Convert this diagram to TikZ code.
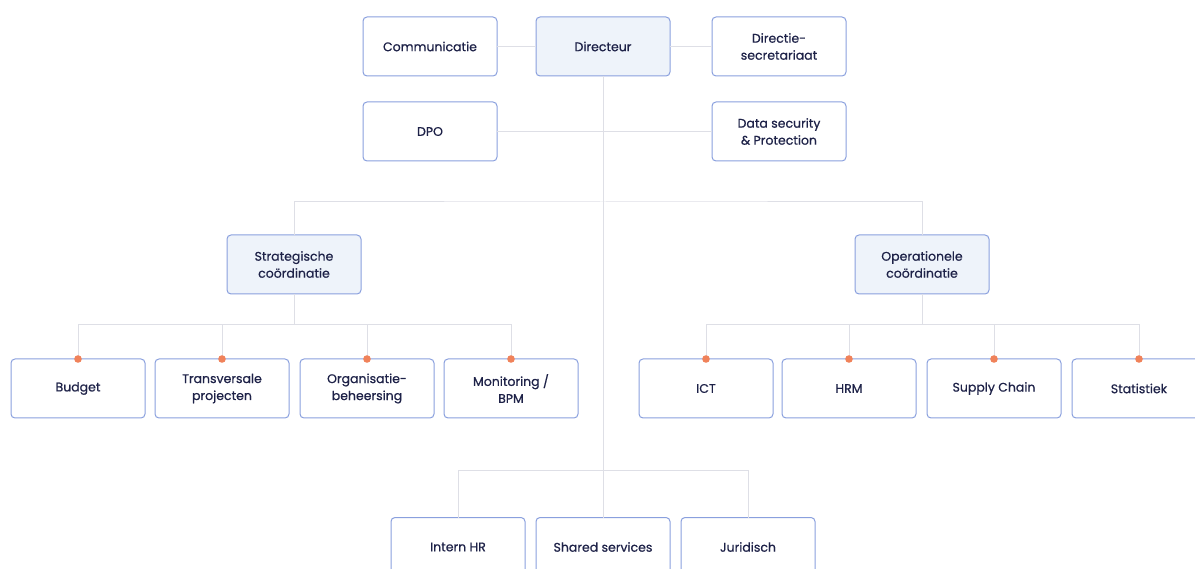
\documentclass[tikz,border=0pt]{standalone}
\usepackage{fontspec}
\setmainfont{Poppins}[UprightFeatures={FakeBold=0.6}]
\usetikzlibrary{positioning}
\definecolor{boxline}{RGB}{138,160,222}
\definecolor{boxfill}{RGB}{238,243,250}
\definecolor{boxtext}{RGB}{30,34,72}
\definecolor{linkgray}{RGB}{222,223,230}
\definecolor{dotorange}{RGB}{240,130,90}
\tikzset{
  module/.style={rounded corners=4pt, align=center, font=\fontsize{12.5}{17}\selectfont, text=boxtext, line width=1pt},
  simple module/.style={module, draw=boxline, fill=white, minimum width=134pt, minimum height=59pt, inner sep=0pt, outer sep=0pt},
  head module/.style={simple module, fill=boxfill},
  link/.style={draw=linkgray, line width=1pt},
  dot/.style={fill=dotorange},
}

\begin{document}
\begin{tikzpicture}[x=1pt,y=1pt]
\useasboundingbox (0,0) rectangle (1195,-569);
%the nodes
\node [head module] (jDir) at (603,-46.5) {Directeur};
\node [simple module,left=39pt of jDir] (jCom) {Communicatie};
\node [simple module,right=42pt of jDir] (jSec) {Directie-\\secretariaat};
\node [simple module,below=26pt of jCom] (jDPO) {DPO};
\node [simple module,below=26pt of jSec] (jDSP) {Data security\\\& Protection};
\node [head module] (jStr) at (294,-264.5) {Strategische\\coördinatie};
\node [head module] (jOpe) at (922,-264.5) {Operationele\\coördinatie};
\node [simple module] (jBud) at (78,-388.5) {Budget};
\node [simple module,right=10pt of jBud] (jTra) {Transversale\\projecten};
\node [simple module,right=11pt of jTra] (jOrg) {Organisatie-\\beheersing};
\node [simple module,right=10pt of jOrg] (jMon) {Monitoring /\\BPM};
\node [simple module] (jICT) at (706,-388.5) {ICT};
\node [simple module,right=9pt of jICT] (jHRM) {HRM};
\node [simple module,right=11pt of jHRM] (jSup) {Supply Chain};
\node [simple module,right=11pt of jSup] (jSta) {Statistiek};
\node [simple module] (jInt) at (458,-547) {Intern HR};
\node [simple module,right=11pt of jInt] (jShS) {Shared services};
\node [simple module,right=11pt of jShS] (jJur) {Juridisch};
%bar points
\coordinate (jBarC) at (603,-202);
\coordinate (jBarS) at (294,-325);
\coordinate (jBarO) at (922,-325);
\coordinate (jBarB) at (603,-470);
%drawings of links
\draw[link] (jCom.east) -- (jDir.west);
\draw[link] (jDir.east) -- (jSec.west);
\draw[link] (jDPO.east) -- (jDSP.west);
\draw[link] (jDir.south) -- (jShS.north);
\draw[link] (jStr.north) |- (jBarC) -| (jOpe.north);
\draw[link] (jStr.south) -- (jBarS);
\draw[link] (jOpe.south) -- (jBarO);
\foreach \c in {jBud,jTra,jOrg,jMon}
  \draw[link] (jBarS) -| (\c.north);
\foreach \c in {jICT,jHRM,jSup,jSta}
  \draw[link] (jBarO) -| (\c.north);
\foreach \c in {jInt,jJur}
  \draw[link] (jBarB) -| (\c.north);
%dots
\foreach \c in {jBud,jTra,jOrg,jMon,jICT,jHRM,jSup,jSta}
  \fill[dot] (\c.north) circle (3.8pt);
\end{tikzpicture}
\end{document}
